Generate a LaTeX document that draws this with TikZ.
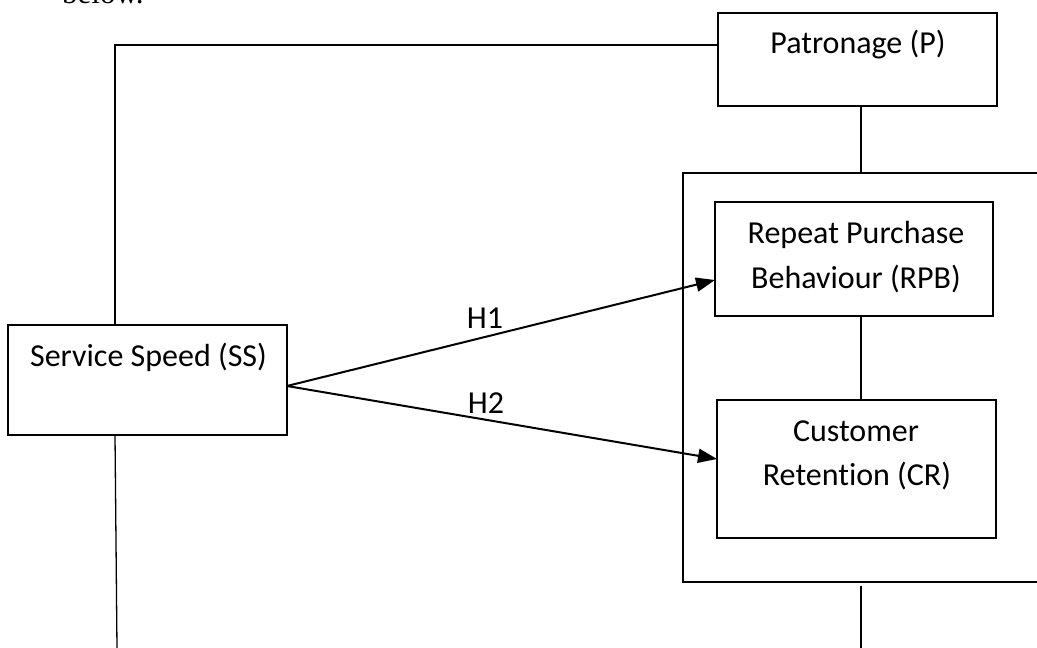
\documentclass[tikz,border=0pt]{standalone}
\usepackage{fontspec}
\setmainfont{Carlito}[Ligatures={NoCommon}]
\newfontfamily\serifbody{Liberation Serif}
\usetikzlibrary{arrows.meta}
\begin{document}
\begin{tikzpicture}[x=1pt,y=-1pt,
  box/.style={draw=black,line width=1.5pt,minimum width=#1,inner sep=0pt,outer sep=0pt},
  lbl/.style={font=\fontsize{32}{38}\selectfont,inner sep=0pt,anchor=base},
  conn/.style={draw=black,line width=1.3pt},
  arr/.style={draw=black,line width=2pt,-{Triangle[length=19pt,width=14pt]}}]
\useasboundingbox (0,0) rectangle (1037,648);
% cut-off text at the top
\node[font=\serifbody\fontsize{31}{37}\selectfont,inner sep=0pt,anchor=base west] (below) at (62,3) {below.};
% boxes
\node[box=279pt,minimum height=93pt] (P) at (857.5,59.5) {};
\node[box=278pt,minimum height=114pt] (RPB) at (854,259) {};
\node[box=279pt,minimum height=138pt] (CR) at (856.5,469) {};
\node[box=279pt,minimum height=110pt] (SS) at (147.5,380) {};
% outer frame (extends beyond right edge)
\draw[line width=1.5pt] (1045,173) -- (683,173) -- (683,582) -- (1045,582);
\coordinate (outT) at (861,173);
\coordinate (outB) at (861,586);
\coordinate (botR) at (861,648);
\coordinate (botL) at (117,648);
\coordinate (corner) at (115,45);
% texts
\node[lbl] (tP) at (858,53) {Patronage (P)};
\node[lbl] (tR1) at (856,243) {Repeat Purchase};
\node[lbl] (tR2) at (856,288) {Behaviour (RPB)};
\node[lbl] (tC1) at (856,441) {Customer};
\node[lbl] (tC2) at (857,485) {Retent\kern0pt ion (CR)};
\node[lbl] (tS) at (148.5,366) {Service Speed (SS)};
\node[lbl] (h1) at (485,328) {H1};
\node[lbl] (h2) at (486,413) {H2};
% connectors
\draw[conn] (SS.north -| corner) -- (corner) -- (corner -| P.west);
\draw[conn] (SS.south -| corner) -- (botL);
\draw[conn] (P.south -| outT) -- (outT);
\draw[conn] (RPB.south -| outT) -- (CR.north -| outT);
\draw[conn] (outB) -- (botR);
\draw[arr] ([yshift=-6pt]SS.east) -- ([yshift=-21pt]RPB.west);
\draw[arr] ([yshift=-6pt]SS.east) -- ([yshift=10pt]CR.west);
\end{tikzpicture}
\end{document}
